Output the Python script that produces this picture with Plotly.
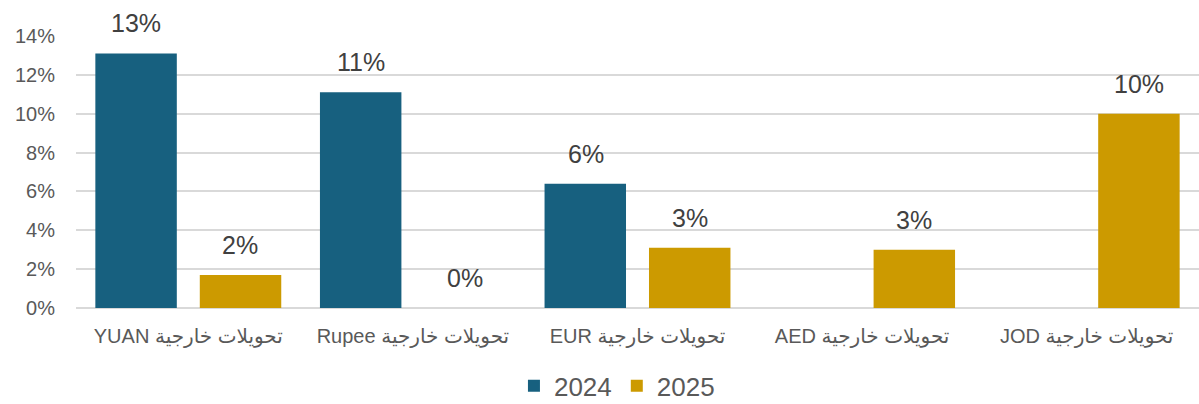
import plotly.graph_objects as go

# Foreign transfer categories (Arabic label + currency code)
currencies = ["YUAN", "Rupee", "EUR", "AED", "JOD"]
categories = ["\u202bتحويلات خارجية " + c + "\u202c" for c in currencies]

years = ["2024", "2025"]
values_2024 = [0.131, 0.111, 0.064, None, None]
values_2025 = [0.017, 0.0, 0.031, 0.030, 0.100]

y_ticks = [0, 0.02, 0.04, 0.06, 0.08, 0.10, 0.12, 0.14]

colors = {"2024": "#17607F", "2025": "#CC9A00"}
series = {"2024": values_2024, "2025": values_2025}

FONT = "Liberation Sans, Arial, DejaVu Sans, sans-serif"

fig = go.Figure()
for yr in years:
    fig.add_trace(go.Bar(
        x=categories,
        y=series[yr],
        name=yr,
        marker=dict(color=colors[yr], line=dict(width=0)),
    ))

# Value labels above each bar, offset to the bar's slot in the group
group_shift = {"2024": -52, "2025": 52}
for yr in years:
    for cat, v in zip(categories, series[yr]):
        if v is None:
            continue
        fig.add_annotation(
            x=cat, y=v, xref="x", yref="y",
            text=f"{v:.0%}",
            showarrow=False,
            xshift=group_shift[yr],
            yanchor="bottom",
            yshift=14,
            font=dict(family=FONT, size=25, color="#404040"),
        )

fig.update_layout(
    width=1199,
    height=404,
    margin=dict(l=76, r=0, t=36, b=96, autoexpand=False),
    paper_bgcolor="white",
    plot_bgcolor="white",
    barmode="group",
    bargap=0.07,
    bargroupgap=0.22,
    font=dict(family=FONT, color="#595959"),
    showlegend=True,
    legend=dict(
        orientation="h",
        x=0.4817, xanchor="center",
        yref="container",
        y=0.045, yanchor="middle",
        font=dict(family=FONT, size=26, color="#595959"),
        itemwidth=30,
    ),
    xaxis=dict(
        automargin=False,
        showgrid=False,
        showline=False,
        ticks="",
        tickfont=dict(family=FONT, size=20, color="#595959"),
        ticklabelstandoff=14,
    ),
    yaxis=dict(
        automargin=False,
        range=[0, 0.14],
        tickvals=y_ticks,
        tickformat=".0%",
        showgrid=True,
        gridcolor="#D9D9D9",
        gridwidth=1.5,
        zeroline=True,
        zerolinecolor="#D9D9D9",
        zerolinewidth=1.5,
        showline=False,
        ticks="",
        tickfont=dict(family=FONT, size=20, color="#595959"),
        ticklabelstandoff=20,
    ),
)

fig.write_html("out.html")
